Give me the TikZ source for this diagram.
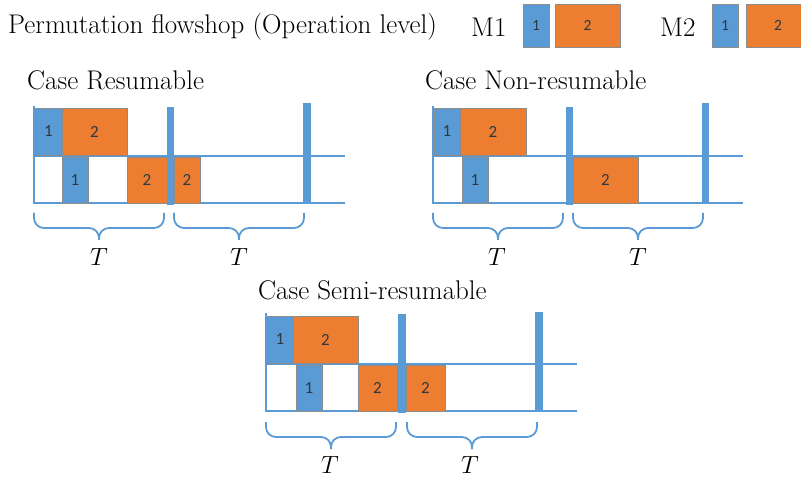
\documentclass[tikz,border=0pt]{standalone}
\usepackage{fontspec}
\newfontfamily\boxfont{Carlito}
\definecolor{jblue}{HTML}{5B9BD5}
\definecolor{jorange}{HTML}{ED7D31}
\definecolor{jtext}{HTML}{2B3A42}
\tikzset{
  jbox/.style={draw=black!45, line width=0.5pt, inner sep=0pt, font=\boxfont\fontsize{17}{19}\selectfont, text=jtext},
  hbox/.style={jbox, font=\boxfont\fontsize{15.5}{17}\selectfont},
  axisline/.style={draw=jblue, line width=2.8pt},
  bar/.style={fill=jblue},
  brc/.style={draw=jblue, line width=1.8pt, rounded corners=10pt},
  title/.style={anchor=west, font=\fontsize{27}{31}\selectfont, inner sep=0pt},
  tlabel/.style={font=\fontsize{23}{27}\selectfont, inner sep=0pt}
}
\newcommand\gbox[8][jbox]{%
  \node[#1, fill=#7, minimum width={(#5-#3)*1pt}, minimum height={(#6-#4)*1pt}] (#2) at ({(#3+#5)/2},{(#4+#6)/2}) {#8};}
\newcommand\gbar[5]{%
  \fill[bar] (#2,#3) rectangle (#4,#5) coordinate (#1);}
% brace: xa, xb, y0 ; tip at middle, horizontal at y0+15, tip at y0+27
\newcommand\gbrace[3]{%
  \draw[brc] (#1,#3) -- (#1,#3+15) -- ({(#1+#2)/2},#3+15) -- ({(#1+#2)/2},#3+27);
  \draw[brc] (#2,#3) -- (#2,#3+15) -- ({(#1+#2)/2},#3+15) -- ({(#1+#2)/2},#3+27);}
\begin{document}
\begin{tikzpicture}[x=1pt,y=-1pt]
\useasboundingbox (0,0) rectangle (801,478);
% header
\node[title] (hdr) at (8,27) {Permutation flowshop (Operation level)};
\node[title] (m1) at (471,27) {M1};
\gbox[hbox]{l11}{523}{4}{549}{47}{jblue}{1}
\gbox[hbox]{l12}{555}{4}{620}{47}{jorange}{2}
\node[title] (m2) at (660,27) {M2};
\gbox[hbox]{l21}{712}{4}{738}{47}{jblue}{1}
\gbox[hbox]{l22}{746}{4}{810}{47}{jorange}{2}

% ---------- Case Resumable ----------
\node[title] (tr) at (27,80) {Case Resumable};
\draw[axisline] (34,106) -- (34,204.4);
\draw[axisline] (34,156) -- (345,156);
\draw[axisline] (34,203) -- (345,203);
\gbox{ra1}{35}{108}{62}{155}{jblue}{1}
\gbox{ra2}{62}{108}{127}{155}{jorange}{2}
\gbox{rb1}{62}{157}{88}{203}{jblue}{1}
\gbox{rb2}{127}{157}{167}{203}{jorange}{2}
\gbox{rb3}{174}{157}{200}{203}{jorange}{2}
\gbar{rbar1}{167}{107}{174}{205}
\gbar{rbar2}{303}{103}{311}{203}
\gbrace{34}{164}{213}
\gbrace{174}{304}{213}
\node[tlabel] (rt1) at (99,257) {$T$};
\node[tlabel] (rt2) at (239,257) {$T$};

% ---------- Case Non-resumable ----------
\node[title] (tn) at (425,80) {Case Non-resumable};
\draw[axisline] (433,106) -- (433,204.4);
\draw[axisline] (433,156) -- (743,156);
\draw[axisline] (433,203) -- (743,203);
\gbox{na1}{434}{108}{460}{155}{jblue}{1}
\gbox{na2}{460}{108}{526}{155}{jorange}{2}
\gbox{nb1}{462}{157}{488}{203}{jblue}{1}
\gbox{nb2}{573}{157}{638}{203}{jorange}{2}
\gbar{nbar1}{566}{107}{573}{205}
\gbar{nbar2}{702}{103}{709}{203}
\gbrace{433}{563}{213}
\gbrace{573}{703}{213}
\node[tlabel] (nt1) at (497,257) {$T$};
\node[tlabel] (nt2) at (638,257) {$T$};

% ---------- Case Semi-resumable ----------
\node[title] (ts) at (258,290) {Case Semi-resumable};
\draw[axisline] (266,313) -- (266,412.4);
\draw[axisline] (266,364) -- (577,364);
\draw[axisline] (266,411) -- (577,411);
\gbox{sa1}{267}{316}{293}{363}{jblue}{1}
\gbox{sa2}{293}{316}{358}{363}{jorange}{2}
\gbox{sb1}{296}{365}{322}{411}{jblue}{1}
\gbox{sb2}{358}{365}{397}{411}{jorange}{2}
\gbox{sb3}{406}{365}{445}{411}{jorange}{2}
\gbar{sbar1}{398}{314}{406}{413}
\gbar{sbar2}{535}{312}{543}{411}
\gbrace{266}{396}{422}
\gbrace{407}{537}{422}
\node[tlabel] (st1) at (330,465) {$T$};
\node[tlabel] (st2) at (470,465) {$T$};
\end{tikzpicture}
\end{document}
